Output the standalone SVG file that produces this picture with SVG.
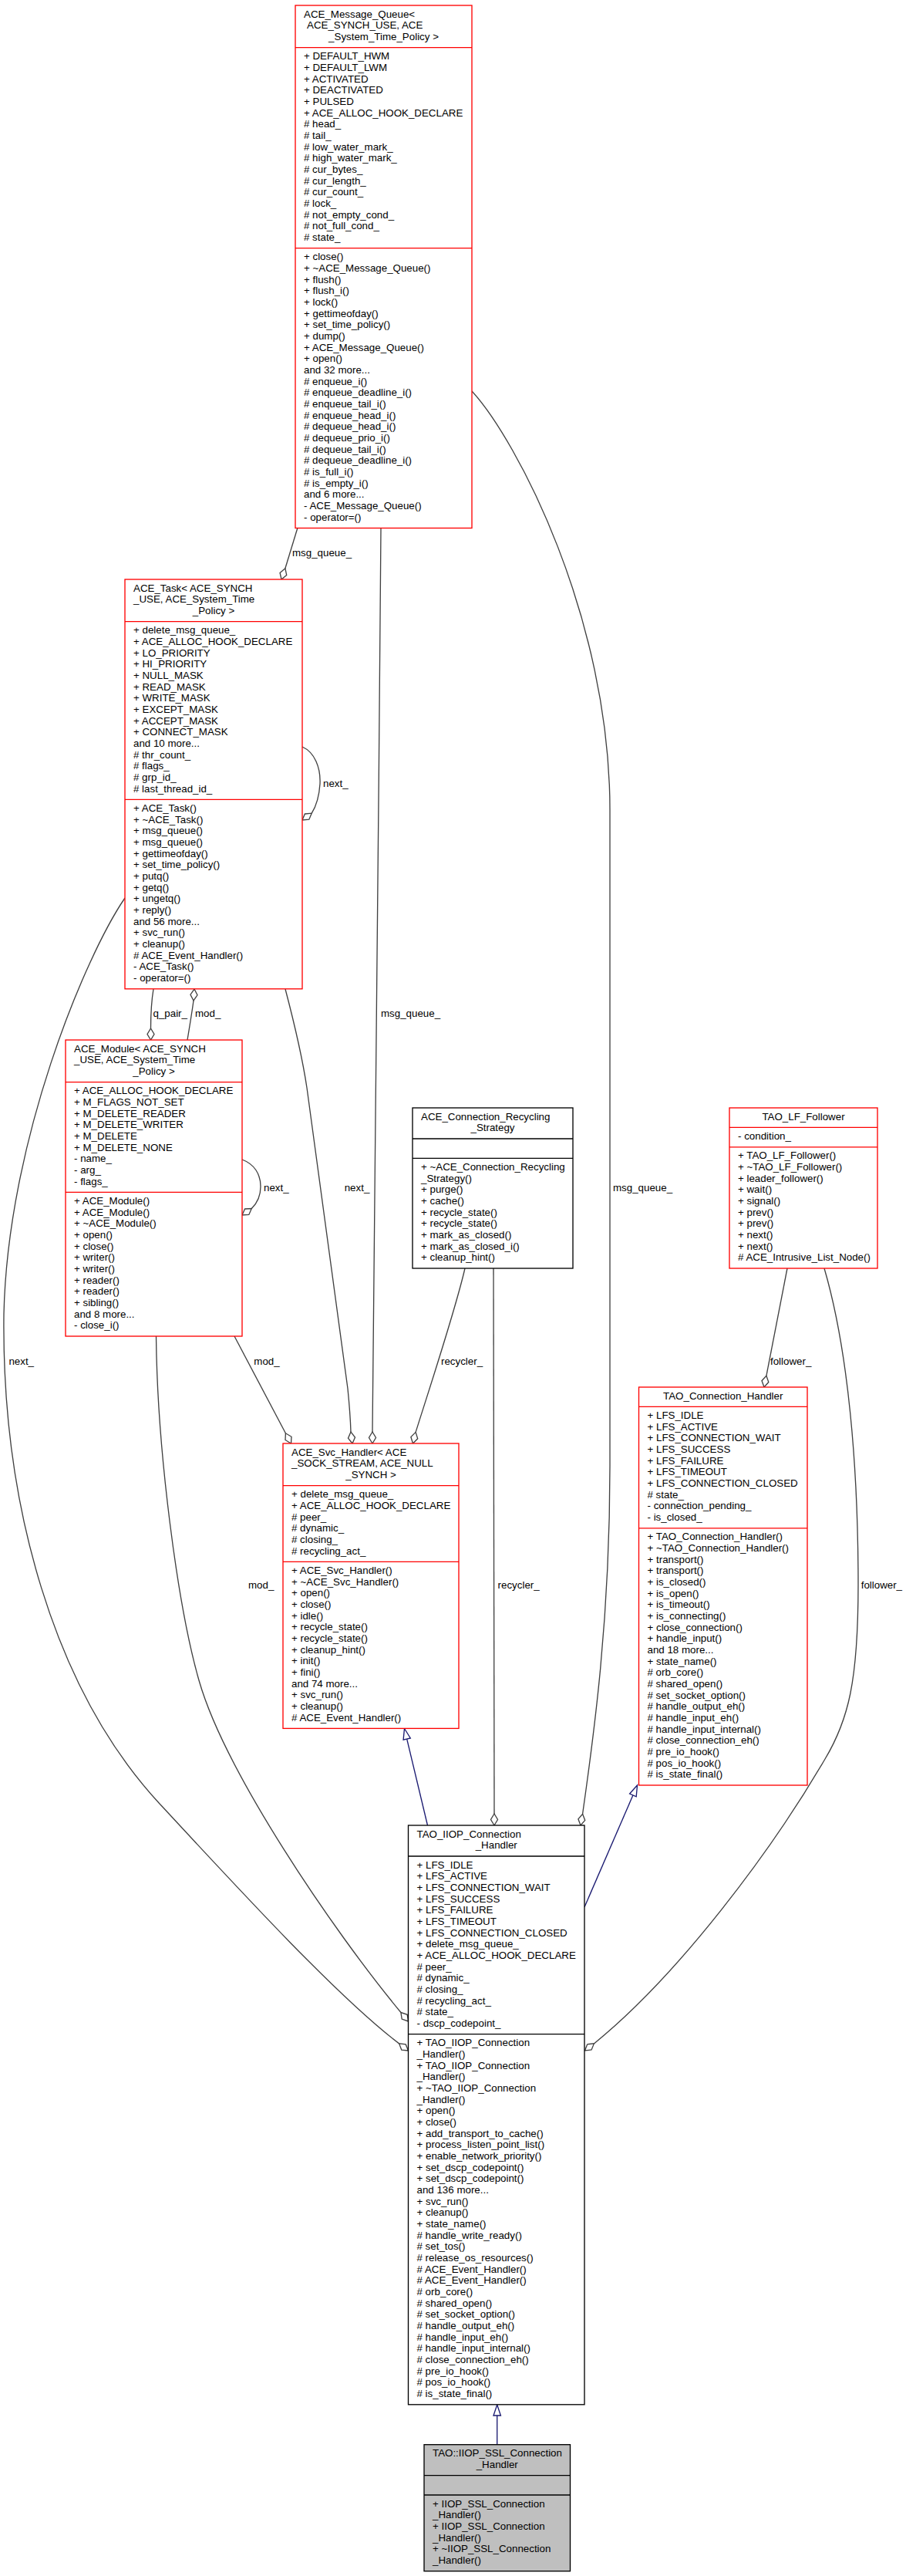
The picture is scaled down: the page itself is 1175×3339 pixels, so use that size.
<svg xmlns="http://www.w3.org/2000/svg" width="1175" height="3339" viewBox="0 0 1175 3339">
<style>
text{font-family:"Liberation Sans",Arial,Helvetica,sans-serif;font-size:13.33px;fill:#000}
.c{text-anchor:middle}
.r{fill:#fff;stroke:#ff0000;stroke-width:1.33}
.rs{stroke:#ff0000;stroke-width:1.33}
.k{fill:#fff;stroke:#000;stroke-width:1.33}
.g{fill:#bfbfbf;stroke:#000;stroke-width:1.33}
.ks{stroke:#000;stroke-width:1.33}
.e{fill:none;stroke:#404040;stroke-width:1.33}
.d{fill:#fff;stroke:#404040;stroke-width:1.33}
.i{fill:none;stroke:#191970;stroke-width:1.33}
.ia{fill:#fff;stroke:#191970;stroke-width:1.33}
</style>
<rect width="1175" height="3339" fill="#fff"/>

<g id="connectors">
<!-- MQ -> Task msg_queue_ -->
<path class="e" d="M386,684 L369.9,736.8"/>
<polygon class="d" points="365,751 363.1,742.4 369.9,736.8 371.7,745.4"/>
<text x="379" y="721.4">msg_queue_</text>
<!-- Task self next_ -->
<path class="e" d="M392,968 C408,975 416,995 415,1016 C414,1032 410,1045 404.2,1054.2"/>
<polygon class="d" points="392,1063 395.4,1055 404.2,1054.2 400.8,1062.2"/>
<text x="419" y="1019.7">next_</text>
<!-- Task -> Module q_pair_ -->
<path class="e" d="M199,1282 C196,1300 195.5,1315 195.5,1333"/>
<polygon class="d" points="195.5,1348 191,1340.5 195.5,1333 200,1340.5"/>
<text x="198.5" y="1317.7">q_pair_</text>
<!-- Module -> Task mod_ -->
<path class="e" d="M243,1348 C246,1330 249,1312 251,1297"/>
<polygon class="d" points="252,1282 256,1289.8 251,1297 247,1289.2"/>
<text x="253" y="1317.7">mod_</text>
<!-- Module self next_ -->
<path class="e" d="M314,1503 C330,1509 338,1522 338,1538 C338,1551 333,1560 326.3,1566.5"/>
<polygon class="d" points="314,1575 317.6,1567 326.3,1566.5 322.8,1574.4"/>
<text x="342" y="1543.7">next_</text>
<!-- Task -> Svc next_ -->
<path class="e" d="M370,1282 C380,1320 392,1370 398,1410 L451,1800 C453,1820 454.5,1840 455,1856.1"/>
<polygon class="d" points="457,1871 451.5,1864.2 455,1856.1 460.5,1863"/>
<text x="446.7" y="1543.7">next_</text>
<!-- MQ -> Svc msg_queue_ -->
<path class="e" d="M494,684 C491,1100 485,1600 483,1856"/>
<polygon class="d" points="483,1871 478.5,1863.5 483,1856 487.5,1863.5"/>
<text x="494" y="1317.7">msg_queue_</text>
<!-- MQ -> IIOP msg_queue_ -->
<path class="e" d="M612,507 C670,570 791,800 791,1050 L791,1900 C791,2100 770,2250 755.6,2351.2"/>
<polygon class="d" points="753,2366 749.9,2357.8 755.6,2351.2 758.7,2359.4"/>
<text x="795" y="1543.7">msg_queue_</text>
<!-- Recycling -> Svc recycler_ -->
<path class="e" d="M603,1644 C590,1700 560,1790 539.1,1856.4"/>
<polygon class="d" points="535.5,1871 532.9,1862.6 539.1,1856.4 541.7,1864.8"/>
<text x="572" y="1768.7">recycler_</text>
<!-- Recycling -> IIOP recycler_ -->
<path class="e" d="M640,1644 L641,2351"/>
<polygon class="d" points="641,2366 636.5,2358.5 641,2351 645.5,2358.5"/>
<text x="645.6" y="2058.7">recycler_</text>
<!-- LF -> CH follower_ -->
<path class="e" d="M1021,1644 L993.9,1783.3"/>
<polygon class="d" points="991,1798 988,1789.7 993.9,1783.3 996.8,1791.5"/>
<text x="999" y="1768.7">follower_</text>
<!-- LF -> IIOP follower_ -->
<path class="e" d="M1069,1644 C1100,1750 1113,1900 1113,2054 C1113,2180 1100,2230 1070,2280 C1000,2400 880,2560 770.4,2648.9"/>
<polygon class="d" points="758.5,2658 761.7,2649.8 770.4,2648.9 767.1,2657"/>
<text x="1116.7" y="2058.7">follower_</text>
<!-- Module -> IIOP mod_ -->
<path class="e" d="M202.5,1732 C204,1880 230,2080 258,2178 C291.6,2295.6 430,2500 519.9,2608.5"/>
<polygon class="d" points="529.5,2620 521.2,2617.1 519.9,2608.5 528.2,2611.3"/>
<text x="322" y="2058.7">mod_</text>
<!-- Task -> IIOP next_ -->
<path class="e" d="M162,1164 C110,1240 10,1480 5,1703 C2,1950 70,2190 207,2338 C316.6,2456.4 440,2590 517.6,2648.9"/>
<polygon class="d" points="529.5,2658 520.8,2657.1 517.6,2648.9 526.2,2649.9"/>
<text x="11.4" y="1768.7">next_</text>
<!-- Module -> Svc mod_ -->
<path class="e" d="M304,1732 L370.4,1857.8"/>
<polygon class="d" points="377.5,1871 370,1866.5 370.4,1857.8 378,1862.3"/>
<text x="329.3" y="1768.7">mod_</text>
<!-- inheritance -->
<path class="i" d="M554.5,2366 L527.7,2254.1"/>
<polygon class="ia" points="524.5,2240.5 532.3,2253 523.1,2255.2"/>
<path class="i" d="M758,2472 L820.9,2326.9"/>
<polygon class="ia" points="826.5,2314 825.2,2328.8 816.6,2325"/>
<path class="i" d="M644.7,3168.7 L644.7,3131"/>
<polygon class="ia" points="644.7,3117 649.4,3131 640,3131"/>
</g>

<g id="node_message_queue">
<rect class="r" x="383" y="7" width="229" height="677.5"/>
<line class="rs" x1="383" y1="61.7" x2="612" y2="61.7"/>
<line class="rs" x1="383" y1="321.7" x2="612" y2="321.7"/>
<text x="394" y="22.5">ACE_Message_Queue&lt;</text>
<text x="398" y="37.2">ACE_SYNCH_USE, ACE</text>
<text class="c" x="497.5" y="51.8">_System_Time_Policy &gt;</text>
<text y="77.2"><tspan x="394">+ DEFAULT_HWM</tspan><tspan x="394" dy="14.67">+ DEFAULT_LWM</tspan><tspan x="394" dy="14.67">+ ACTIVATED</tspan><tspan x="394" dy="14.67">+ DEACTIVATED</tspan><tspan x="394" dy="14.67">+ PULSED</tspan><tspan x="394" dy="14.67">+ ACE_ALLOC_HOOK_DECLARE</tspan><tspan x="394" dy="14.67"># head_</tspan><tspan x="394" dy="14.67"># tail_</tspan><tspan x="394" dy="14.67"># low_water_mark_</tspan><tspan x="394" dy="14.67"># high_water_mark_</tspan><tspan x="394" dy="14.67"># cur_bytes_</tspan><tspan x="394" dy="14.67"># cur_length_</tspan><tspan x="394" dy="14.67"># cur_count_</tspan><tspan x="394" dy="14.67"># lock_</tspan><tspan x="394" dy="14.67"># not_empty_cond_</tspan><tspan x="394" dy="14.67"># not_full_cond_</tspan><tspan x="394" dy="14.67"># state_</tspan></text>
<text y="337.2"><tspan x="394">+ close()</tspan><tspan x="394" dy="14.67">+ ~ACE_Message_Queue()</tspan><tspan x="394" dy="14.67">+ flush()</tspan><tspan x="394" dy="14.67">+ flush_i()</tspan><tspan x="394" dy="14.67">+ lock()</tspan><tspan x="394" dy="14.67">+ gettimeofday()</tspan><tspan x="394" dy="14.67">+ set_time_policy()</tspan><tspan x="394" dy="14.67">+ dump()</tspan><tspan x="394" dy="14.67">+ ACE_Message_Queue()</tspan><tspan x="394" dy="14.67">+ open()</tspan><tspan x="394" dy="14.67">and 32 more...</tspan><tspan x="394" dy="14.67"># enqueue_i()</tspan><tspan x="394" dy="14.67"># enqueue_deadline_i()</tspan><tspan x="394" dy="14.67"># enqueue_tail_i()</tspan><tspan x="394" dy="14.67"># enqueue_head_i()</tspan><tspan x="394" dy="14.67"># dequeue_head_i()</tspan><tspan x="394" dy="14.67"># dequeue_prio_i()</tspan><tspan x="394" dy="14.67"># dequeue_tail_i()</tspan><tspan x="394" dy="14.67"># dequeue_deadline_i()</tspan><tspan x="394" dy="14.67"># is_full_i()</tspan><tspan x="394" dy="14.67"># is_empty_i()</tspan><tspan x="394" dy="14.67">and 6 more...</tspan><tspan x="394" dy="14.67">- ACE_Message_Queue()</tspan><tspan x="394" dy="14.67">- operator=()</tspan></text>
</g>

<g id="node_task">
<rect class="r" x="162" y="751" width="230" height="530.8"/>
<line class="rs" x1="162" y1="805.7" x2="392" y2="805.7"/>
<line class="rs" x1="162" y1="1036.4" x2="392" y2="1036.4"/>
<text x="173" y="766.5">ACE_Task&lt; ACE_SYNCH</text>
<text x="173" y="781.2">_USE, ACE_System_Time</text>
<text class="c" x="277" y="795.8">_Policy &gt;</text>
<text y="821.2"><tspan x="173">+ delete_msg_queue_</tspan><tspan x="173" dy="14.67">+ ACE_ALLOC_HOOK_DECLARE</tspan><tspan x="173" dy="14.67">+ LO_PRIORITY</tspan><tspan x="173" dy="14.67">+ HI_PRIORITY</tspan><tspan x="173" dy="14.67">+ NULL_MASK</tspan><tspan x="173" dy="14.67">+ READ_MASK</tspan><tspan x="173" dy="14.67">+ WRITE_MASK</tspan><tspan x="173" dy="14.67">+ EXCEPT_MASK</tspan><tspan x="173" dy="14.67">+ ACCEPT_MASK</tspan><tspan x="173" dy="14.67">+ CONNECT_MASK</tspan><tspan x="173" dy="14.67">and 10 more...</tspan><tspan x="173" dy="14.67"># thr_count_</tspan><tspan x="173" dy="14.67"># flags_</tspan><tspan x="173" dy="14.67"># grp_id_</tspan><tspan x="173" dy="14.67"># last_thread_id_</tspan></text>
<text y="1051.9"><tspan x="173">+ ACE_Task()</tspan><tspan x="173" dy="14.67">+ ~ACE_Task()</tspan><tspan x="173" dy="14.67">+ msg_queue()</tspan><tspan x="173" dy="14.67">+ msg_queue()</tspan><tspan x="173" dy="14.67">+ gettimeofday()</tspan><tspan x="173" dy="14.67">+ set_time_policy()</tspan><tspan x="173" dy="14.67">+ putq()</tspan><tspan x="173" dy="14.67">+ getq()</tspan><tspan x="173" dy="14.67">+ ungetq()</tspan><tspan x="173" dy="14.67">+ reply()</tspan><tspan x="173" dy="14.67">and 56 more...</tspan><tspan x="173" dy="14.67">+ svc_run()</tspan><tspan x="173" dy="14.67">+ cleanup()</tspan><tspan x="173" dy="14.67"># ACE_Event_Handler()</tspan><tspan x="173" dy="14.67">- ACE_Task()</tspan><tspan x="173" dy="14.67">- operator=()</tspan></text>
</g>

<g id="node_module">
<rect class="r" x="85" y="1348" width="229" height="384"/>
<line class="rs" x1="85" y1="1402.7" x2="314" y2="1402.7"/>
<line class="rs" x1="85" y1="1545.4" x2="314" y2="1545.4"/>
<text x="96" y="1363.5">ACE_Module&lt; ACE_SYNCH</text>
<text x="96" y="1378.2">_USE, ACE_System_Time</text>
<text class="c" x="199.5" y="1392.8">_Policy &gt;</text>
<text y="1418.2"><tspan x="96">+ ACE_ALLOC_HOOK_DECLARE</tspan><tspan x="96" dy="14.67">+ M_FLAGS_NOT_SET</tspan><tspan x="96" dy="14.67">+ M_DELETE_READER</tspan><tspan x="96" dy="14.67">+ M_DELETE_WRITER</tspan><tspan x="96" dy="14.67">+ M_DELETE</tspan><tspan x="96" dy="14.67">+ M_DELETE_NONE</tspan><tspan x="96" dy="14.67">- name_</tspan><tspan x="96" dy="14.67">- arg_</tspan><tspan x="96" dy="14.67">- flags_</tspan></text>
<text y="1560.9"><tspan x="96">+ ACE_Module()</tspan><tspan x="96" dy="14.67">+ ACE_Module()</tspan><tspan x="96" dy="14.67">+ ~ACE_Module()</tspan><tspan x="96" dy="14.67">+ open()</tspan><tspan x="96" dy="14.67">+ close()</tspan><tspan x="96" dy="14.67">+ writer()</tspan><tspan x="96" dy="14.67">+ writer()</tspan><tspan x="96" dy="14.67">+ reader()</tspan><tspan x="96" dy="14.67">+ reader()</tspan><tspan x="96" dy="14.67">+ sibling()</tspan><tspan x="96" dy="14.67">and 8 more...</tspan><tspan x="96" dy="14.67">- close_i()</tspan></text>
</g>

<g id="node_recycling_strategy">
<rect class="k" x="535" y="1436" width="208" height="208"/>
<line class="ks" x1="535" y1="1476" x2="743" y2="1476"/>
<line class="ks" x1="535" y1="1501.4" x2="743" y2="1501.4"/>
<text x="546" y="1451.5">ACE_Connection_Recycling</text>
<text class="c" x="639" y="1466.2">_Strategy</text>
<text y="1516.9"><tspan x="546">+ ~ACE_Connection_Recycling</tspan><tspan x="546" dy="14.67">_Strategy()</tspan><tspan x="546" dy="14.67">+ purge()</tspan><tspan x="546" dy="14.67">+ cache()</tspan><tspan x="546" dy="14.67">+ recycle_state()</tspan><tspan x="546" dy="14.67">+ recycle_state()</tspan><tspan x="546" dy="14.67">+ mark_as_closed()</tspan><tspan x="546" dy="14.67">+ mark_as_closed_i()</tspan><tspan x="546" dy="14.67">+ cleanup_hint()</tspan></text>
</g>

<g id="node_lf_follower">
<rect class="r" x="946" y="1436" width="192" height="208"/>
<line class="rs" x1="946" y1="1461.4" x2="1138" y2="1461.4"/>
<line class="rs" x1="946" y1="1486.8" x2="1138" y2="1486.8"/>
<text class="c" x="1042" y="1451.5">TAO_LF_Follower</text>
<text x="957" y="1476.9">- condition_</text>
<text y="1502.3"><tspan x="957">+ TAO_LF_Follower()</tspan><tspan x="957" dy="14.67">+ ~TAO_LF_Follower()</tspan><tspan x="957" dy="14.67">+ leader_follower()</tspan><tspan x="957" dy="14.67">+ wait()</tspan><tspan x="957" dy="14.67">+ signal()</tspan><tspan x="957" dy="14.67">+ prev()</tspan><tspan x="957" dy="14.67">+ prev()</tspan><tspan x="957" dy="14.67">+ next()</tspan><tspan x="957" dy="14.67">+ next()</tspan><tspan x="957" dy="14.67"># ACE_Intrusive_List_Node()</tspan></text>
</g>

<g id="node_connection_handler">
<rect class="r" x="828.5" y="1798" width="218.5" height="516"/>
<line class="rs" x1="828.5" y1="1823.4" x2="1047" y2="1823.4"/>
<line class="rs" x1="828.5" y1="1980.8" x2="1047" y2="1980.8"/>
<text class="c" x="937.75" y="1813.5">TAO_Connection_Handler</text>
<text y="1838.9"><tspan x="839.5">+ LFS_IDLE</tspan><tspan x="839.5" dy="14.67">+ LFS_ACTIVE</tspan><tspan x="839.5" dy="14.67">+ LFS_CONNECTION_WAIT</tspan><tspan x="839.5" dy="14.67">+ LFS_SUCCESS</tspan><tspan x="839.5" dy="14.67">+ LFS_FAILURE</tspan><tspan x="839.5" dy="14.67">+ LFS_TIMEOUT</tspan><tspan x="839.5" dy="14.67">+ LFS_CONNECTION_CLOSED</tspan><tspan x="839.5" dy="14.67"># state_</tspan><tspan x="839.5" dy="14.67">- connection_pending_</tspan><tspan x="839.5" dy="14.67">- is_closed_</tspan></text>
<text y="1996.3"><tspan x="839.5">+ TAO_Connection_Handler()</tspan><tspan x="839.5" dy="14.67">+ ~TAO_Connection_Handler()</tspan><tspan x="839.5" dy="14.67">+ transport()</tspan><tspan x="839.5" dy="14.67">+ transport()</tspan><tspan x="839.5" dy="14.67">+ is_closed()</tspan><tspan x="839.5" dy="14.67">+ is_open()</tspan><tspan x="839.5" dy="14.67">+ is_timeout()</tspan><tspan x="839.5" dy="14.67">+ is_connecting()</tspan><tspan x="839.5" dy="14.67">+ close_connection()</tspan><tspan x="839.5" dy="14.67">+ handle_input()</tspan><tspan x="839.5" dy="14.67">and 18 more...</tspan><tspan x="839.5" dy="14.67">+ state_name()</tspan><tspan x="839.5" dy="14.67"># orb_core()</tspan><tspan x="839.5" dy="14.67"># shared_open()</tspan><tspan x="839.5" dy="14.67"># set_socket_option()</tspan><tspan x="839.5" dy="14.67"># handle_output_eh()</tspan><tspan x="839.5" dy="14.67"># handle_input_eh()</tspan><tspan x="839.5" dy="14.67"># handle_input_internal()</tspan><tspan x="839.5" dy="14.67"># close_connection_eh()</tspan><tspan x="839.5" dy="14.67"># pre_io_hook()</tspan><tspan x="839.5" dy="14.67"># pos_io_hook()</tspan><tspan x="839.5" dy="14.67"># is_state_final()</tspan></text>
</g>

<g id="node_svc_handler">
<rect class="r" x="367" y="1871" width="228" height="369.4"/>
<line class="rs" x1="367" y1="1925.7" x2="595" y2="1925.7"/>
<line class="rs" x1="367" y1="2024.4" x2="595" y2="2024.4"/>
<text x="378" y="1886.5">ACE_Svc_Handler&lt; ACE</text>
<text x="378" y="1901.2">_SOCK_STREAM, ACE_NULL</text>
<text class="c" x="481" y="1915.8">_SYNCH &gt;</text>
<text y="1941.2"><tspan x="378">+ delete_msg_queue_</tspan><tspan x="378" dy="14.67">+ ACE_ALLOC_HOOK_DECLARE</tspan><tspan x="378" dy="14.67"># peer_</tspan><tspan x="378" dy="14.67"># dynamic_</tspan><tspan x="378" dy="14.67"># closing_</tspan><tspan x="378" dy="14.67"># recycling_act_</tspan></text>
<text y="2039.9"><tspan x="378">+ ACE_Svc_Handler()</tspan><tspan x="378" dy="14.67">+ ~ACE_Svc_Handler()</tspan><tspan x="378" dy="14.67">+ open()</tspan><tspan x="378" dy="14.67">+ close()</tspan><tspan x="378" dy="14.67">+ idle()</tspan><tspan x="378" dy="14.67">+ recycle_state()</tspan><tspan x="378" dy="14.67">+ recycle_state()</tspan><tspan x="378" dy="14.67">+ cleanup_hint()</tspan><tspan x="378" dy="14.67">+ init()</tspan><tspan x="378" dy="14.67">+ fini()</tspan><tspan x="378" dy="14.67">and 74 more...</tspan><tspan x="378" dy="14.67">+ svc_run()</tspan><tspan x="378" dy="14.67">+ cleanup()</tspan><tspan x="378" dy="14.67"># ACE_Event_Handler()</tspan></text>
</g>

<g id="node_iiop_connection_handler">
<rect class="k" x="529.5" y="2366" width="228.5" height="750.8"/>
<line class="ks" x1="529.5" y1="2406" x2="758" y2="2406"/>
<line class="ks" x1="529.5" y1="2636.7" x2="758" y2="2636.7"/>
<text x="540.5" y="2381.5">TAO_IIOP_Connection</text>
<text class="c" x="643.75" y="2396.2">_Handler</text>
<text y="2421.5"><tspan x="540.5">+ LFS_IDLE</tspan><tspan x="540.5" dy="14.67">+ LFS_ACTIVE</tspan><tspan x="540.5" dy="14.67">+ LFS_CONNECTION_WAIT</tspan><tspan x="540.5" dy="14.67">+ LFS_SUCCESS</tspan><tspan x="540.5" dy="14.67">+ LFS_FAILURE</tspan><tspan x="540.5" dy="14.67">+ LFS_TIMEOUT</tspan><tspan x="540.5" dy="14.67">+ LFS_CONNECTION_CLOSED</tspan><tspan x="540.5" dy="14.67">+ delete_msg_queue_</tspan><tspan x="540.5" dy="14.67">+ ACE_ALLOC_HOOK_DECLARE</tspan><tspan x="540.5" dy="14.67"># peer_</tspan><tspan x="540.5" dy="14.67"># dynamic_</tspan><tspan x="540.5" dy="14.67"># closing_</tspan><tspan x="540.5" dy="14.67"># recycling_act_</tspan><tspan x="540.5" dy="14.67"># state_</tspan><tspan x="540.5" dy="14.67">- dscp_codepoint_</tspan></text>
<text y="2652.2"><tspan x="540.5">+ TAO_IIOP_Connection</tspan><tspan x="540.5" dy="14.67">_Handler()</tspan><tspan x="540.5" dy="14.67">+ TAO_IIOP_Connection</tspan><tspan x="540.5" dy="14.67">_Handler()</tspan><tspan x="540.5" dy="14.67">+ ~TAO_IIOP_Connection</tspan><tspan x="540.5" dy="14.67">_Handler()</tspan><tspan x="540.5" dy="14.67">+ open()</tspan><tspan x="540.5" dy="14.67">+ close()</tspan><tspan x="540.5" dy="14.67">+ add_transport_to_cache()</tspan><tspan x="540.5" dy="14.67">+ process_listen_point_list()</tspan><tspan x="540.5" dy="14.67">+ enable_network_priority()</tspan><tspan x="540.5" dy="14.67">+ set_dscp_codepoint()</tspan><tspan x="540.5" dy="14.67">+ set_dscp_codepoint()</tspan><tspan x="540.5" dy="14.67">and 136 more...</tspan><tspan x="540.5" dy="14.67">+ svc_run()</tspan><tspan x="540.5" dy="14.67">+ cleanup()</tspan><tspan x="540.5" dy="14.67">+ state_name()</tspan><tspan x="540.5" dy="14.67"># handle_write_ready()</tspan><tspan x="540.5" dy="14.67"># set_tos()</tspan><tspan x="540.5" dy="14.67"># release_os_resources()</tspan><tspan x="540.5" dy="14.67"># ACE_Event_Handler()</tspan><tspan x="540.5" dy="14.67"># ACE_Event_Handler()</tspan><tspan x="540.5" dy="14.67"># orb_core()</tspan><tspan x="540.5" dy="14.67"># shared_open()</tspan><tspan x="540.5" dy="14.67"># set_socket_option()</tspan><tspan x="540.5" dy="14.67"># handle_output_eh()</tspan><tspan x="540.5" dy="14.67"># handle_input_eh()</tspan><tspan x="540.5" dy="14.67"># handle_input_internal()</tspan><tspan x="540.5" dy="14.67"># close_connection_eh()</tspan><tspan x="540.5" dy="14.67"># pre_io_hook()</tspan><tspan x="540.5" dy="14.67"># pos_io_hook()</tspan><tspan x="540.5" dy="14.67"># is_state_final()</tspan></text>
</g>

<g id="node_iiop_ssl_connection_handler">
<rect class="g" x="550" y="3168.7" width="189.5" height="164"/>
<line class="ks" x1="550" y1="3208.7" x2="739.5" y2="3208.7"/>
<line class="ks" x1="550" y1="3234" x2="739.5" y2="3234"/>
<text x="561" y="3184.2">TAO::IIOP_SSL_Connection</text>
<text class="c" x="644.75" y="3198.9">_Handler</text>
<text y="3249.5"><tspan x="561">+ IIOP_SSL_Connection</tspan><tspan x="561" dy="14.67">_Handler()</tspan><tspan x="561" dy="14.67">+ IIOP_SSL_Connection</tspan><tspan x="561" dy="14.67">_Handler()</tspan><tspan x="561" dy="14.67">+ ~IIOP_SSL_Connection</tspan><tspan x="561" dy="14.67">_Handler()</tspan></text>
</g>
</svg>
